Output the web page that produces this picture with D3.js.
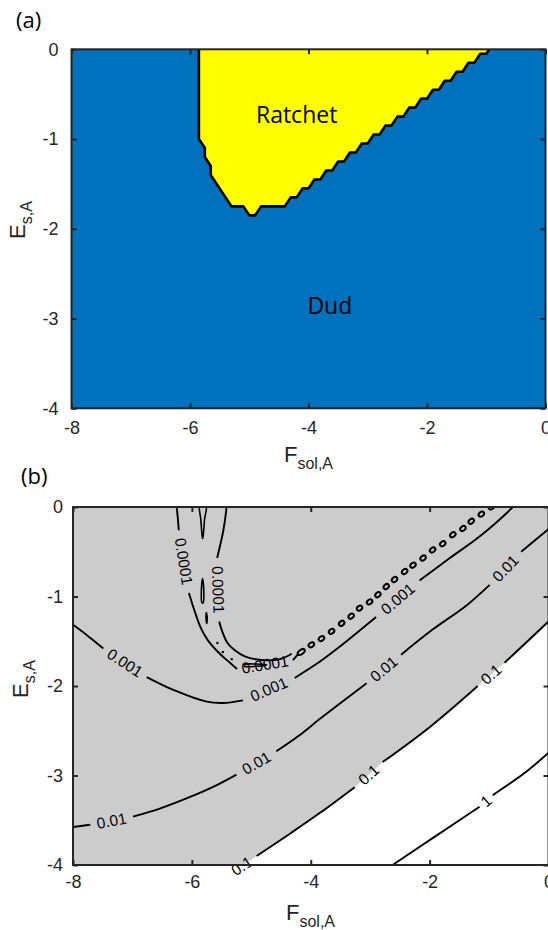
<!DOCTYPE html>
<html>
<head>
<meta charset="utf-8">
<script src="https://cdn.jsdelivr.net/npm/d3@7"></script>
<style>
    html, body { margin: 0; padding: 0; background: #fff; }
    svg { display: block; }
</style>
</head>
<body>
<svg id="chart" width="548" height="930"></svg>
<script>
// ticks shared by both panels
let xTicks = [-8, -6, -4, -2, 0];
let yTicks = [0, -1, -2, -3, -4];

// (a) grid the regime map was computed on
let gridF = [-8, 0];
let gridE = [0, -4];
let gridStep = 0.1;

// (a) lowest E_s,A still in the ratchet regime, per F_sol,A column
let ratchetCols = [-5.8, -5.7, -5.6, -5.5, -5.4, -5.3, -5.2, -5.1, -5.0, -4.9,
    -4.8, -4.7, -4.6, -4.5, -4.4, -4.3, -4.2, -4.1, -4.0, -3.9,
    -3.8, -3.7, -3.6, -3.5, -3.4, -3.3, -3.2, -3.1, -3.0, -2.9,
    -2.8, -2.7, -2.6, -2.5, -2.4, -2.3, -2.2, -2.1, -2.0, -1.9,
    -1.8, -1.7, -1.6, -1.5, -1.4, -1.3, -1.2, -1.1, -1.0];
let ratchetFloor = [-1.0, -1.2, -1.4, -1.5, -1.6, -1.7, -1.7, -1.7, -1.8, -1.8,
    -1.7, -1.7, -1.7, -1.7, -1.7, -1.6, -1.6, -1.5, -1.5, -1.4,
    -1.4, -1.3, -1.3, -1.2, -1.2, -1.1, -1.1, -1.0, -1.0, -0.9,
    -0.9, -0.8, -0.8, -0.7, -0.7, -0.6, -0.6, -0.5, -0.5, -0.4,
    -0.4, -0.3, -0.3, -0.2, -0.2, -0.1, -0.1, 0.0, 0.0];

let regionNames = ['Ratchet', 'Dud'];
let regionAt = [[-4.2, -0.82], [-3.64, -2.95]];

// (b) contour lines, [F_sol,A, E_s,A]; every gap between two pieces holds a label
let level0001Outer = [
    [[-6.26, 0.03], [-6.24, -0.10], [-6.22, -0.26]],
    [[-6.05, -0.96], [-5.95, -1.17], [-5.85, -1.35], [-5.73, -1.49], [-5.53, -1.64], [-5.36, -1.74], [-5.24, -1.81]],
    [[-4.30, -1.71], [-4.22, -1.65]]
];
let level0001Inner = [
    [[-5.415, 0.03], [-5.42, -0.02], [-5.47, -0.26], [-5.575, -0.57]],
    [[-5.54, -1.28], [-5.50, -1.37], [-5.40, -1.52], [-5.26, -1.61], [-5.11, -1.67], [-4.83, -1.71], [-4.52, -1.70], [-4.32, -1.64]]
];
let level001 = [
    [[-8.05, -1.29], [-7.75, -1.44], [-7.49, -1.58]],
    [[-6.76, -1.90], [-6.29, -2.05], [-5.75, -2.175], [-5.48, -2.19], [-5.14, -2.16]],
    [[-4.27, -1.91], [-3.85, -1.73], [-3.51, -1.56], [-2.90, -1.23]],
    [[-2.17, -0.82], [-1.66, -0.57], [-1.16, -0.33], [-0.60, 0.0], [-0.56, 0.03]]
];
let level01 = [
    [[-8.05, -3.58], [-7.71, -3.55]],
    [[-6.99, -3.46], [-6.54, -3.37], [-6.03, -3.24], [-5.59, -3.11], [-5.25, -2.99]],
    [[-4.58, -2.73], [-4.19, -2.55], [-3.85, -2.37], [-3.06, -1.97]],
    [[-2.48, -1.65], [-1.95, -1.37], [-1.38, -1.10], [-0.99, -0.87]],
    [[-0.46, -0.50], [0.03, -0.23]]
];
let level1 = [
    [[-5.41, -4.12]],
    [[-4.91, -3.90], [-4.35, -3.65], [-3.85, -3.42], [-3.26, -3.13]],
    [[-2.79, -2.85], [-2.00, -2.46], [-1.19, -2.00]],
    [[-0.74, -1.74], [-0.02, -1.29], [0.03, -1.255]]
];
let level10 = [
    [[-2.69, -4.03], [-1.95, -3.70], [-1.16, -3.35]],
    [[-0.94, -3.22], [-0.38, -2.96], [0.03, -2.73]]
];
let levelNames = ['0.0001', '0.0001', '0.001', '0.01', '0.1', '1'];

// (b) tiny closed 0.0001 contours near the ridge
let islands0001 = [
    [[-5.866, 0.03], [-5.849, -0.145], [-5.829, -0.313], [-5.82, -0.352], [-5.808, -0.313], [-5.788, -0.145], [-5.761, 0.03]],
    [[-5.82, -0.80], [-5.80, -0.93], [-5.81, -1.07], [-5.83, -1.07], [-5.84, -0.93]],
    [[-5.756, -1.18], [-5.741, -1.24], [-5.75, -1.30], [-5.763, -1.24]],
    [[-5.11, -1.76], [-4.92, -1.755], [-4.74, -1.765], [-4.92, -1.78], [-5.11, -1.78]]
];
let specks0001 = [[-5.57, -1.52], [-5.48, -1.62], [-5.33, -1.70]];
let beads0001 = [[-4.16, -1.62], [-3.99, -1.54], [-3.82, -1.47], [-3.65, -1.39], [-3.48, -1.30],
    [-3.32, -1.22], [-3.18, -1.13], [-3.01, -1.06], [-2.87, -0.98], [-2.73, -0.89],
    [-2.59, -0.81], [-2.42, -0.72], [-2.28, -0.65], [-2.11, -0.57], [-1.95, -0.48],
    [-1.78, -0.41], [-1.61, -0.31], [-1.44, -0.24], [-1.30, -0.16], [-1.13, -0.08], [-0.96, 0.0]];

let svg = d3.select('#chart');
let axisColor = '#262626';
let tickFont = "'Liberation Sans', Arial, sans-serif";
let textFont = "'Open Sans', 'Noto Sans', sans-serif";

let xA = d3.scaleLinear().domain([-8, 0]).range([71.5, 545.5]),
    yA = d3.scaleLinear().domain([0, -4]).range([49.3, 408.3]);
let xB = d3.scaleLinear().domain([-8, 0]).range([73, 548.5]),
    yB = d3.scaleLinear().domain([0, -4]).range([507, 865]);

function addClip(id, x, y) {
    svg.append('clipPath').attr('id', id)
        .append('rect')
        .attr('x', x.range()[0]).attr('y', y.range()[0])
        .attr('width', x.range()[1] - x.range()[0])
        .attr('height', y.range()[1] - y.range()[0]);
}

// plain hyphen minus, as in the original figure
let tickText = function(d) { return String(d); };

// box with inward ticks on all four sides
function drawAxes(x, y, pad) {
    let w = x.range()[1] - x.range()[0],
        h = y.range()[1] - y.range()[0];
    let g = svg.append('g');
    let axes = [
        [d3.axisBottom(x).tickValues(xTicks).tickFormat(tickText), 'translate(0,' + y.range()[1] + ')'],
        [d3.axisTop(x).tickValues(xTicks).tickFormat(''), 'translate(0,' + y.range()[0] + ')'],
        [d3.axisLeft(y).tickValues(yTicks).tickFormat(tickText), 'translate(' + x.range()[0] + ',0)'],
        [d3.axisRight(y).tickValues(yTicks).tickFormat(''), 'translate(' + x.range()[1] + ',0)']
    ];
    axes.forEach(function(a) {
        let ag = g.append('g')
            .attr('transform', a[1])
            .call(a[0].tickSizeInner(-5).tickSizeOuter(0).tickPadding(pad));
        ag.select('.domain').remove();
        ag.selectAll('line').attr('stroke', axisColor).attr('stroke-width', 2);
        ag.selectAll('text')
            .attr('fill', axisColor)
            .style('font-family', tickFont)
            .style('font-size', '18px');
    });
    g.append('rect')
        .attr('x', x.range()[0]).attr('y', y.range()[0])
        .attr('width', w).attr('height', h)
        .attr('fill', 'none')
        .attr('stroke', axisColor)
        .attr('stroke-width', 2);
}

function axisLabels(cx, by, lx, cy) {
    let xl = svg.append('text')
        .attr('x', cx).attr('y', by)
        .attr('text-anchor', 'middle')
        .attr('fill', axisColor)
        .style('font-family', tickFont)
        .style('font-size', '22px');
    xl.append('tspan').text('F');
    xl.append('tspan').attr('dy', 7).style('font-size', '16px').text('sol,A');

    let yl = svg.append('text')
        .attr('transform', 'translate(' + lx + ',' + cy + ') rotate(-90)')
        .attr('text-anchor', 'middle')
        .attr('fill', axisColor)
        .style('font-family', tickFont)
        .style('font-size', '22px');
    yl.append('tspan').text('E');
    yl.append('tspan').attr('dy', 7).style('font-size', '16px').text('s,A');
}

// ---------- panel (a) ----------
addClip('clipA', xA, yA);
let plotA = svg.append('g').attr('clip-path', 'url(#clipA)');
plotA.append('rect')
    .attr('x', xA.range()[0]).attr('y', yA.range()[0])
    .attr('width', xA.range()[1] - xA.range()[0])
    .attr('height', yA.range()[1] - yA.range()[0])
    .attr('fill', '#0072bd');

let nCols = Math.round((gridF[1] - gridF[0]) / gridStep) + 1,
    nRows = Math.round((gridE[0] - gridE[1]) / gridStep) + 1;
let inRatchet = new Array(nCols * nRows).fill(0);
ratchetCols.forEach(function(f, k) {
    let i = Math.round((f - gridF[0]) / gridStep);
    for (let j = 0; j < nRows; j++) {
        if (gridE[0] - j * gridStep >= ratchetFloor[k] - 1e-6) inRatchet[j * nCols + i] = 1;
    }
});
let ratchetShape = d3.contours().size([nCols, nRows]).thresholds([0.5])(inRatchet);
let gridToPlot = d3.geoTransform({
    point: function(gx, gy) {
        this.stream.point(xA(gridF[0] + (gx - 0.5) * gridStep), yA(gridE[0] - (gy - 0.5) * gridStep));
    }
});
plotA.selectAll('.ratchet')
    .data(ratchetShape)
    .enter().append('path')
    .attr('class', 'ratchet')
    .attr('d', d3.geoPath(gridToPlot))
    .attr('fill', '#ffff00')
    .attr('stroke', '#000')
    .attr('stroke-width', 2.6)
    .attr('stroke-linejoin', 'round');

svg.selectAll('.region')
    .data(regionNames)
    .enter().append('text')
    .attr('class', 'region')
    .attr('x', function(d, i) { return xA(regionAt[i][0]); })
    .attr('y', function(d, i) { return yA(regionAt[i][1]); })
    .attr('text-anchor', 'middle')
    .style('font-family', textFont)
    .style('font-size', '23px')
    .attr('fill', '#000')
    .text(function(d) { return d; });

drawAxes(xA, yA, 13);
axisLabels(308.5, 462, 25, 220);
svg.append('text').attr('x', 16).attr('y', 28)
    .style('font-family', textFont).style('font-size', '22px').text('(a)');

// ---------- panel (b) ----------
addClip('clipB', xB, yB);
let plotB = svg.append('g').attr('clip-path', 'url(#clipB)');
plotB.append('rect')
    .attr('x', xB.range()[0]).attr('y', yB.range()[0])
    .attr('width', xB.range()[1] - xB.range()[0])
    .attr('height', yB.range()[1] - yB.range()[0])
    .attr('fill', '#cccccc');

// region above the 0.1 contour is left white
let edge = [].concat.apply([], level1);
let whiteArea = edge.concat([[0.3, edge[edge.length - 1][1]], [0.3, -4.3], [edge[0][0], -4.3]]);
plotB.append('path')
    .attr('d', d3.line().x(function(d) { return xB(d[0]); }).y(function(d) { return yB(d[1]); })
        .curve(d3.curveLinearClosed)(whiteArea))
    .attr('fill', '#ffffff');

let contourLines = [level0001Outer, level0001Inner, level001, level01, level1, level10];
let lineB = d3.line()
    .x(function(d) { return xB(d[0]); })
    .y(function(d) { return yB(d[1]); })
    .curve(d3.curveCatmullRom.alpha(0.5));
let labelG = svg.append('g');

contourLines.forEach(function(pieces, c) {
    pieces.forEach(function(p) {
        if (p.length < 2) return;
        plotB.append('path')
            .attr('d', lineB(p))
            .attr('fill', 'none')
            .attr('stroke', '#000')
            .attr('stroke-width', 1.9);
    });
    for (let i = 0; i < pieces.length - 1; i++) {
        let a = pieces[i][pieces[i].length - 1], b = pieces[i + 1][0];
        let ax = xB(a[0]), ay = yB(a[1]), bx = xB(b[0]), by = yB(b[1]);
        let ang = Math.atan2(by - ay, bx - ax) * 180 / Math.PI;
        if (ang > 90) ang -= 180;
        if (ang < -90) ang += 180;
        labelG.append('text')
            .attr('transform', 'translate(' + (ax + bx) / 2 + ',' + (ay + by) / 2 + ') rotate(' + ang + ')')
            .attr('text-anchor', 'middle')
            .attr('dominant-baseline', 'central')
            .style('font-family', tickFont)
            .style('font-size', '15.5px')
            .attr('fill', '#000')
            .text(levelNames[c]);
    }
});

plotB.selectAll('.island')
    .data(islands0001)
    .enter().append('path')
    .attr('class', 'island')
    .attr('d', d3.line().x(function(d) { return xB(d[0]); }).y(function(d) { return yB(d[1]); })
        .curve(d3.curveCatmullRomClosed))
    .attr('fill', 'none')
    .attr('stroke', '#000')
    .attr('stroke-width', 1.6);

plotB.selectAll('.speck')
    .data(specks0001)
    .enter().append('circle')
    .attr('class', 'speck')
    .attr('cx', function(d) { return xB(d[0]); })
    .attr('cy', function(d) { return yB(d[1]); })
    .attr('r', 1.2)
    .attr('fill', '#000');

plotB.selectAll('.bead')
    .data(beads0001)
    .enter().append('ellipse')
    .attr('class', 'bead')
    .attr('rx', function(d, i) { return i === 0 ? 4 : 3; })
    .attr('ry', 2.2)
    .attr('transform', function(d, i) {
        let p = beads0001[Math.max(i - 1, 0)], n = beads0001[Math.min(i + 1, beads0001.length - 1)];
        let ang = Math.atan2(yB(n[1]) - yB(p[1]), xB(n[0]) - xB(p[0])) * 180 / Math.PI;
        return 'translate(' + xB(d[0]) + ',' + yB(d[1]) + ') rotate(' + ang + ')';
    })
    .attr('fill', 'none')
    .attr('stroke', '#000')
    .attr('stroke-width', 2);

drawAxes(xB, yB, 10);
axisLabels(310.5, 920, 28, 679);
svg.append('text').attr('x', 21).attr('y', 484)
    .style('font-family', textFont).style('font-size', '22px').text('(b)');
</script>
</body>
</html>
